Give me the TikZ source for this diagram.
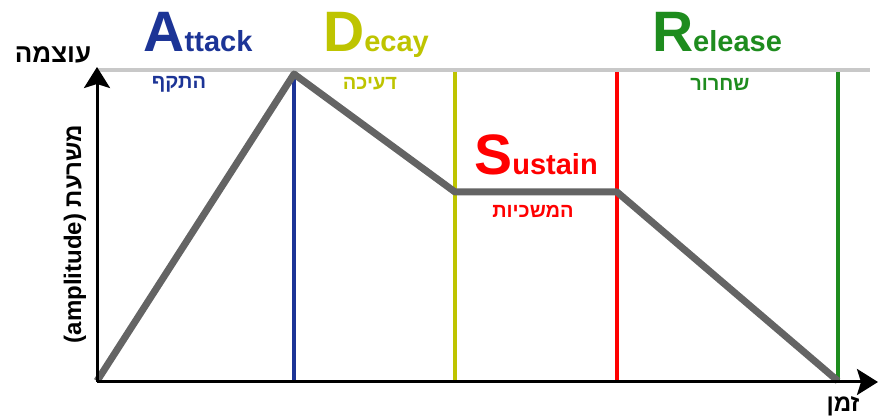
\documentclass[tikz,border=0pt]{standalone}
\usepackage{fontspec}
\setmainfont{Liberation Sans}
\newfontfamily\hebfont[Script=Hebrew]{Liberation Sans}
\TeXXeTstate=1
\definecolor{adsrblue}{RGB}{28,52,150}
\definecolor{adsrolive}{RGB}{190,196,0}
\definecolor{adsrred}{RGB}{255,0,0}
\definecolor{adsrgreen}{RGB}{30,140,30}
\definecolor{adsrgray}{RGB}{100,100,100}
\definecolor{adsrlight}{RGB}{200,200,200}
\usepackage{tikz}
\usetikzlibrary{arrows.meta}

% big first letter, smaller rest of the word
\newcommand{\stageword}[2]{{\fontsize{57}{57}\selectfont #1}{\fontsize{29}{29}\selectfont #2}}

\begin{document}
\begin{tikzpicture}[x=1pt, y=-1pt,
  stagetitle/.style={anchor=base, inner sep=0pt, font=\bfseries},
  heblabel/.style={inner sep=0pt, font=\hebfont\bfseries\fontsize{20}{20}\selectfont},
  stageline/.style={line width=4pt},
  axisline/.style={line width=3pt, -{Stealth[length=21pt, width=26pt, inset=4pt]}}]
\useasboundingbox (0,0) rectangle (878,419);

% --- Axes ---
\coordinate (orig) at (97,382);
\coordinate (ytop) at (97,67);
\coordinate (xend) at (878,382);
\coordinate (gl) at (97,70);
\coordinate (gr) at (870,70);
\draw[adsrlight, line width=4pt] (gl) -- (gr);

% --- Stage borders ---
\coordinate (at) at (294,72);   \coordinate (ab) at (294,382);
\coordinate (dt) at (455,72);   \coordinate (db) at (455,382);
\coordinate (st) at (617,72);   \coordinate (sb) at (617,382);
\coordinate (rt) at (838,72);   \coordinate (rb) at (838,382);
\draw[stageline, adsrblue] (at) -- (ab);
\draw[stageline, adsrolive] (dt) -- (db);
\draw[stageline, adsrred] (st) -- (sb);
\draw[stageline, adsrgreen] (rt) -- (rb);

% --- Envelope ---
\coordinate (e0) at (97,381);
\coordinate (e1) at (294,74);
\coordinate (e2) at (455,192);
\coordinate (e3) at (617,192);
\coordinate (e4) at (838,381);
\draw[adsrgray, line width=7pt, line join=round] (e0) -- (e1) -- (e2) -- (e3) -- (e4);

\draw[axisline] (orig) -- (ytop);
\draw[axisline] (orig) -- (xend);

% --- Stage names ---
\node[stagetitle, adsrblue] (attack) at (198,52) {\stageword{A}{ttack}};
\node[stagetitle, adsrolive] (decay) at (376,52) {\stageword{D}{ecay}};
\node[stagetitle, adsrred] (sustain) at (536,175) {\stageword{S}{ustain}};
\node[stagetitle, adsrgreen] (release) at (717,52) {\stageword{R}{elease}};

% --- Hebrew labels ---
\node[heblabel, adsrblue] (hattack) at (179,84) {\beginR התקף\endR};
\node[heblabel, adsrolive] (hdecay) at (370,84) {\beginR דעיכה\endR};
\node[heblabel, adsrred] (hsustain) at (533,211) {\beginR המשכיות\endR};
\node[heblabel, adsrgreen] (hrelease) at (720,84) {\beginR שחרור\endR};

% --- Axis labels ---
\node[inner sep=0pt, font=\hebfont\bfseries\fontsize{26}{26}\selectfont] (power) at (53,55) {\beginR עוצמה\endR};
\node[inner sep=0pt, rotate=90, font=\bfseries\fontsize{24}{24}\selectfont] (amp) at (75,234) {(amplitude) {\hebfont\beginR משרעת\endR}};
\node[inner sep=0pt, font=\hebfont\bfseries\fontsize{24}{24}\selectfont] (time) at (843,406) {\beginR זמן\endR};

\end{tikzpicture}
\end{document}
